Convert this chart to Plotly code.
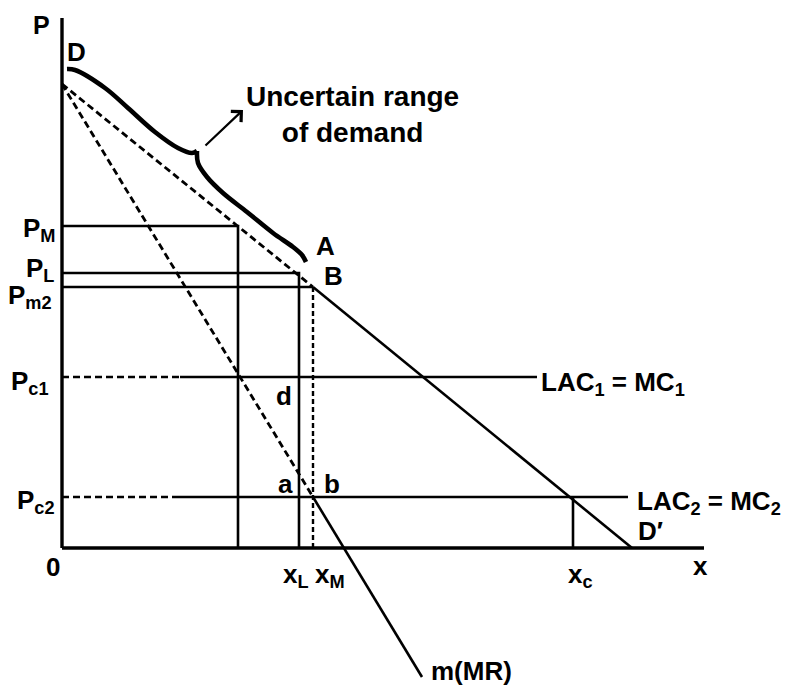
import plotly.graph_objects as go

# ---- data (economic units) ----
demand_intercept = 9.28      # price axis intercept of D (and MR)
demand_x_end = 11.4          # D' on the x axis
P_M, x_m1 = 6.44, 3.52       # monopoly price, MR = MC1 quantity
P_L, x_L = 5.50, 4.74
P_m2, x_M = 5.22, 5.02       # point B
P_c1, P_c2 = 3.42, 1.02
x_c = 10.22
lac1_dash_end, lac1_end = 2.36, 9.5
lac2_dash_end, lac2_end = 2.32, 11.32
mr_end_x, mr_end_y = 7.2, -2.58
axis_x_end, axis_y_end = 12.84, 10.6

brace_left_x = [0.10, 0.26, 0.86, 1.32, 1.86, 2.32, 2.60, 2.70]
brace_left_y = [9.58, 9.56, 9.20, 8.80, 8.32, 8.00, 7.90, 7.94]
brace_right_x = [2.70, 2.72, 2.90, 3.22, 3.70, 4.22, 4.62, 4.80, 4.88]
brace_right_y = [7.94, 7.70, 7.42, 7.10, 6.72, 6.30, 6.02, 5.86, 5.72]

# ---- helpers ----
ORX, ORY, S = 62, 548, 50.0
def X(px):
    return (px - ORX) / S
def Y(py):
    return (ORY - py) / S

fig = go.Figure()
BLACK = "#000000"

def seg(xs, ys, width=2.6, dash=None, shape="linear"):
    fig.add_trace(go.Scatter(x=xs, y=ys, mode="lines",
                             line=dict(color=BLACK, width=width, dash=dash, shape=shape),
                             hoverinfo="skip", showlegend=False))

DASH = "7px,4px"
TW = 2.6
# axes
seg([0, 0], [axis_y_end, 0], width=3.4)
seg([0, axis_x_end], [0, 0], width=3.4)
# demand: dashed to B, solid to D'
seg([0, x_M], [demand_intercept, P_m2], width=2.8, dash=DASH)
seg([x_M, demand_x_end], [P_m2, 0], width=TW)
# MR: dashed to b, solid beyond
seg([0, x_M], [demand_intercept, P_c2], width=2.8, dash=DASH)
seg([x_M, mr_end_x], [P_c2, mr_end_y], width=TW)
# P_M box
seg([0, x_m1, x_m1], [P_M, P_M, 0], width=TW)
# P_L box
seg([0, x_L, x_L], [P_L, P_L, 0], width=TW)
# P_m2 line and dashed x_M
seg([0, x_M], [P_m2, P_m2], width=TW)
seg([x_M, x_M], [P_m2, 0], width=2.4, dash="5px,3px")
# LAC1
seg([0, lac1_dash_end], [P_c1, P_c1], width=2.4, dash=DASH)
seg([lac1_dash_end, lac1_end], [P_c1, P_c1], width=TW)
# LAC2
seg([0, lac2_dash_end], [P_c2, P_c2], width=2.4, dash=DASH)
seg([lac2_dash_end, lac2_end], [P_c2, P_c2], width=TW)
# x_c
seg([x_c, x_c], [P_c2, 0], width=TW)
# uncertain demand brace
seg(brace_left_x, brace_left_y, width=4.6, shape="spline")
seg(brace_right_x, brace_right_y, width=4.6, shape="spline")

FONT = dict(family="Liberation Sans, Arial, sans-serif", size=26, color=BLACK, weight="bold")

def label(text, px, py, xanchor="center", yanchor="middle", size=26):
    f = dict(FONT)
    f["size"] = size
    fig.add_annotation(x=X(px), y=Y(py), text=text, showarrow=False,
                       xanchor=xanchor, yanchor=yanchor, font=f,
                       xref="x", yref="y")

label("P", 41, 25, size=25)
label("D", 76, 52)
label("P<sub>M</sub>", 58, 229, xanchor="right")
label("P<sub>L</sub>", 56, 269, xanchor="right")
label("P<sub>m2</sub>", 54, 296, xanchor="right")
label("P<sub>c1</sub>", 51, 382, xanchor="right")
label("P<sub>c2</sub>", 57, 501, xanchor="right")
label("0", 53, 567)
label("x<sub>L</sub>", 281, 575, xanchor="left")
label("x<sub>M</sub>", 313, 575, xanchor="left")
label("x<sub>c</sub>", 566, 575, xanchor="left")
label("x", 700, 566)
label("A", 325, 246)
label("B", 333, 276)
label("d", 284, 396)
label("a", 285, 484)
label("b", 332, 484)
label("D\u2032", 650, 531)
label("LAC<sub>1</sub> = MC<sub>1</sub>", 539, 383, xanchor="left")
label("LAC<sub>2</sub> = MC<sub>2</sub>", 635, 502, xanchor="left")
label("m(MR)", 429, 671, xanchor="left")
label("Uncertain range<br>of demand", 352, 114, size=28)

# arrow
fig.add_annotation(x=X(243), y=Y(110), ax=X(204), ay=Y(147),
                   xref="x", yref="y", axref="x", ayref="y",
                   text="", showarrow=True, arrowhead=4, arrowsize=1.3,
                   arrowwidth=2.2, arrowcolor=BLACK)

fig.update_layout(
    width=787, height=691,
    margin=dict(l=0, r=0, t=0, b=0),
    paper_bgcolor="white", plot_bgcolor="white",
    xaxis=dict(range=[X(0), X(787)], visible=False, fixedrange=True),
    yaxis=dict(range=[Y(691), Y(0)], visible=False, fixedrange=True),
    showlegend=False,
)
fig.write_html("out.html", config={"displayModeBar": False},
               post_script="document.body.style.margin='0';")
